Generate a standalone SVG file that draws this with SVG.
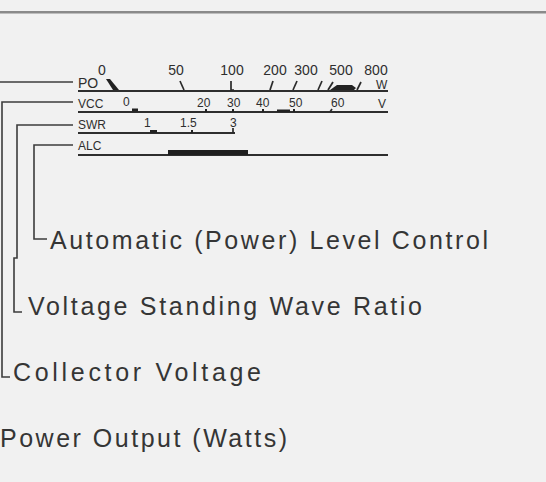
<svg xmlns="http://www.w3.org/2000/svg" width="546" height="482" viewBox="0 0 546 482">
<style>
.bg{fill:#f1f1f1}
.ln{stroke:#3c3c3c;stroke-width:1.6;fill:none}
.sc{stroke:#2e2e2e;stroke-width:2;fill:none}
.tk{stroke:#2a2a2a;stroke-width:1.7;fill:none}
.num{font-family:"Liberation Sans",Arial,sans-serif;font-size:14px;fill:#2e2e2e}
.lab{font-family:"Liberation Sans",Arial,sans-serif;font-size:12px;fill:#2e2e2e}
.big{font-family:"Liberation Sans",Arial,sans-serif;font-size:25px;fill:#353535}
</style>
<rect class="bg" x="0" y="0" width="546" height="482"/>
<rect x="0" y="11" width="546" height="2.5" fill="#8a8a8a"/>

<g id="meter">
  <g id="po-scale">
    <text class="num" x="102" y="75" text-anchor="middle">0</text>
    <text class="num" x="176" y="75" text-anchor="middle">50</text>
    <text class="num" x="232" y="75" text-anchor="middle">100</text>
    <text class="num" x="275" y="75" text-anchor="middle">200</text>
    <text class="num" x="306" y="75" text-anchor="middle">300</text>
    <text class="num" x="341" y="75" text-anchor="middle">500</text>
    <text class="num" x="376" y="75" text-anchor="middle">800</text>
    <text class="num" x="78" y="88">PO</text>
    <text class="lab" x="376" y="89">W</text>
    <line class="sc" x1="78" y1="91" x2="388" y2="91"/>
    <polygon points="106,79 110,79 119,90 113,90" fill="#222"/>
    <line class="tk" x1="180" y1="81" x2="184" y2="90"/>
    <path class="tk" d="M231,81 V90 H234"/>
    <line class="tk" x1="273" y1="81" x2="270" y2="90"/>
    <line class="tk" x1="297" y1="81" x2="293" y2="90"/>
    <line class="tk" x1="322" y1="81" x2="318" y2="90"/>
    <line class="tk" x1="333" y1="82" x2="328" y2="90"/>
    <polygon points="330,90 337,85 352,85 356,88 354,90" fill="#222"/>
    <line class="tk" x1="361" y1="82" x2="357" y2="90"/>
  </g>
  <g id="vcc-scale">
    <text class="lab" x="78" y="108">VCC</text>
    <text class="lab" x="123" y="106">0</text>
    <text class="lab" x="197" y="107">20</text>
    <text class="lab" x="227" y="107">30</text>
    <text class="lab" x="256" y="107">40</text>
    <text class="lab" x="289" y="107">50</text>
    <text class="lab" x="331" y="107">60</text>
    <text class="lab" x="378" y="108">V</text>
    <line class="sc" x1="78" y1="112" x2="388" y2="112"/>
    <rect x="132" y="108.5" width="6" height="3" fill="#222"/>
    <rect x="205" y="109" width="2" height="3" fill="#222"/>
    <rect x="232" y="109" width="2" height="3" fill="#222"/>
    <rect x="262" y="109" width="2" height="3" fill="#222"/>
    <rect x="277" y="109.5" width="13" height="2.5" fill="#222"/>
    <rect x="293" y="109" width="2" height="3" fill="#222"/>
    <path class="tk" d="M332,109 L330,112"/>
  </g>
  <g id="swr-scale">
    <text class="lab" x="78" y="129">SWR</text>
    <text class="lab" x="144" y="127">1</text>
    <text class="lab" x="180" y="127">1.5</text>
    <text class="lab" x="230" y="127">3</text>
    <line class="sc" x1="78" y1="133" x2="235" y2="133"/>
    <rect x="150" y="130" width="7" height="3" fill="#222"/>
    <rect x="191" y="130" width="2" height="3" fill="#222"/>
    <line class="tk" x1="233" y1="128" x2="233" y2="133"/>
  </g>
  <g id="alc-scale">
    <text class="lab" x="78" y="150" font-size="11">ALC</text>
    <line class="sc" x1="78" y1="155" x2="388" y2="155"/>
    <rect x="168" y="150" width="80" height="5" fill="#1e1e1e"/>
  </g>
</g>

<g id="connectors">
  <polyline class="ln" points="0,82 73,82"/>
  <polyline class="ln" points="73,102 2,102 2,377 10,377"/>
  <polyline class="ln" points="73,125 17,125 17,258 14,258 14,312 22,312"/>
  <polyline class="ln" points="73,145 34,145 34,239 47,239"/>
</g>

<g id="label-alc">
  <text class="big" x="50" y="249" textLength="438" lengthAdjust="spacing">Automatic (Power) Level Control</text>
</g>
<g id="label-swr">
  <text class="big" x="28" y="315" textLength="394" lengthAdjust="spacing">Voltage Standing Wave Ratio</text>
</g>
<g id="label-vcc">
  <text class="big" x="13" y="381" textLength="248" lengthAdjust="spacing">Collector Voltage</text>
</g>
<g id="label-po">
  <text class="big" x="0" y="447" textLength="287" lengthAdjust="spacing">Power Output (Watts)</text>
</g>
</svg>
